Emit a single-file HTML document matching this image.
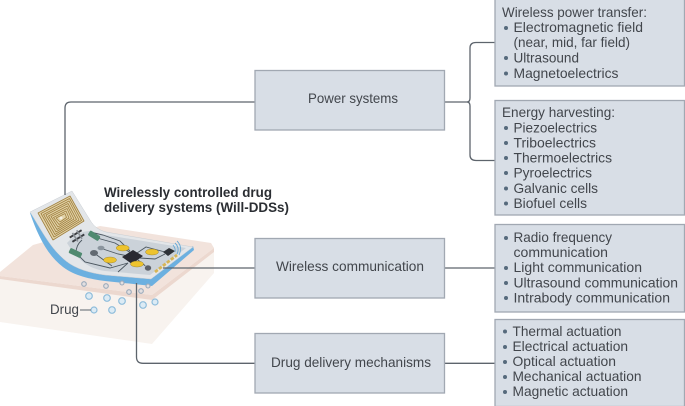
<!DOCTYPE html>
<html><head><meta charset="utf-8"><style>
html,body{margin:0;padding:0;background:#fff;width:685px;height:406px;overflow:hidden}
svg{display:block}
text{font-family:"Liberation Sans",sans-serif;font-size:13.6px;fill:#42464c}
.b{fill:#d8dee6;stroke:#a1a8b2;stroke-width:1.3}
.l{fill:none;stroke:#5d646c;stroke-width:1.3}
.d{fill:#566a7c}
.t{fill:none;stroke:#4b565f;stroke-width:.9}
.g{fill:#edc32d;stroke:#8f7a2a;stroke-width:.4}
.c{fill:#dcebf5;stroke:#8fbddb;stroke-width:1.2}
.s{fill:#e3dfe0;stroke:#9aaabb;stroke-width:1.1}
#art{filter:url(#soft)}
</style></head><body>
<svg width="685" height="406" viewBox="0 0 685 406" xmlns="http://www.w3.org/2000/svg">
<defs><filter id="soft" x="-5%" y="-5%" width="110%" height="110%"><feGaussianBlur stdDeviation="0.35"/></filter></defs>
<rect width="685" height="406" fill="#fff"/>
<g id="art">
<!-- tissue block -->
<polygon points="0,277 152,297 214,250 214,273 152,344 0,322" fill="#f8f3ef"/>
<polygon points="0,272 33,245 100,226 211,243 214,248 152,295 0,276" fill="#f2e3dc"/>
<polygon points="152,295 214,248 214,252 152,300 0,279 0,276" fill="#ecd8cf"/>
<!-- patch blue edge -->
<path d="M30,213 C37,233 46,254 63,267 C75,276 90,279 105,281 L152,286 L194,250 L193,246 L151,279 L105,275 C90,273 76,269 66,261 C50,248 42,231 33,212 Z" fill="#6cb0e0"/>
<!-- patch top -->
<path d="M30,212 L72,191 L90,220 C94,227 99,230 106,232 L193,247 L151,279 L105,275 C90,273 76,269 66,261 C50,248 42,231 30,212 Z" fill="#e3e6e9" stroke="#c8cdd2" stroke-width=".5"/>
<path d="M67,243 Q78,231 90,231 L106,235 L186,248 L150,275 L105,271 C90,269 78,261 67,243 Z" fill="#cbd2d9"/>
<!-- coil -->
<g fill="none" stroke="#a0803f" stroke-width=".8" stroke-linejoin="round">
<path d="M38,213 L70,196 L84,221 L53,240 Z" fill="#e2d3a9"/>
<path d="M41,213.500 L69.500,198.500 L81.500,220.500 L54,237 Z"/>
<path d="M43.500,214.500 L69,201 L79,220 L55,234.500 Z"/>
<path d="M46,215 L68,203.500 L76.500,219.500 L56,232 Z"/>
<path d="M48.500,216 L67.500,206 L74,219 L57,229.500 Z"/>
<path d="M51,216.500 L67,208.500 L71.500,218.500 L58,227 Z"/>
<path d="M53.500,217.500 L66,211 L69,218 L59,224.500 Z"/>
<path d="M56,218 L65,213.500 L66.500,217.500 L60,222 Z"/>
</g>
<circle cx="61" cy="218" r="1.500" fill="#f5efe0"/>
<!-- traces -->
<g class="t">
<path d="M82,240 Q76,245 76,253 L85,262 L110,268 L128,263"/>
<path d="M90,232 L103,235 L120,241 L130,251"/>
<path d="M97,238 L115,243 L131,253"/>
<path d="M100,248 L118,254 L128,256"/>
<path d="M94,253 L112,266"/>
<path d="M137,253 L146,247 L165,252"/>
<path d="M140,258 L155,259 L165,254"/>
<path d="M138,260 L148,268"/>
<path d="M118,272 L128,263"/>
</g>
<!-- components -->
<polygon points="122,257 133,250 143,256 132,264" fill="#2a2c31"/>
<ellipse class="g" cx="122.700" cy="248" rx="6.500" ry="3"/>
<ellipse class="g" cx="152" cy="252" rx="6.500" ry="3"/>
<ellipse class="g" cx="110" cy="260" rx="6.500" ry="3"/>
<ellipse class="g" cx="137" cy="264" rx="6.500" ry="3"/>
<g transform="rotate(32 94 236)"><rect x="88" y="233" width="12" height="5.500" rx="1.200" fill="#4f8a6f"/></g>
<g transform="rotate(25 76 253)"><rect x="69" y="250.500" width="13" height="5.500" rx="1.200" fill="#4f8a6f"/></g>
<g transform="rotate(-32 77 236)" fill="#3a3d42"><rect x="70" y="232.500" width="14" height="2"/><rect x="70" y="237.500" width="14" height="2"/><rect x="74" y="231" width="1.600" height="10" fill="#8a9097"/><rect x="79" y="231" width="1.600" height="10" fill="#8a9097"/></g>
<ellipse cx="101" cy="248" rx="3.500" ry="2.300" fill="#8b959e"/>
<ellipse cx="94" cy="253" rx="4" ry="3" fill="#626a72"/>
<ellipse cx="148" cy="268" rx="3.500" ry="3" fill="#5b6067" stroke="#c9ced3" stroke-width=".6"/>
<polygon points="163,252 169,248 175,251 168,256" fill="#2f3237"/>
<g fill="none" stroke="#68a9d6" stroke-width=".9"><path d="M175,243 Q180,248 177,254"/><path d="M177,241 Q183,247 179,255"/><path d="M173,245 Q176,249 175,252"/></g>
<g stroke="#d6b557" stroke-width="2.800" fill="none" stroke-dasharray="3.500 1.500"><path d="M155,272 L177,255"/></g>
<!-- drug particles -->
<circle class="s" cx="84" cy="284" r="2.300"/><circle class="s" cx="106" cy="286" r="2.300"/><circle class="s" cx="122" cy="283" r="2"/><circle class="s" cx="129" cy="292" r="2.300"/><circle class="s" cx="141" cy="291" r="2.300"/><circle class="s" cx="148" cy="286" r="2"/>
<circle class="c" cx="89" cy="296" r="3.300"/><circle class="c" cx="107" cy="298" r="3.300"/><circle class="c" cx="122" cy="301" r="3.300"/><circle class="c" cx="143" cy="305" r="3.300"/><circle class="c" cx="155" cy="302" r="3"/><circle class="c" cx="94" cy="310" r="3"/><circle class="c" cx="112" cy="310" r="3.300"/>
</g>
<text x="50" y="314" textLength="29" lengthAdjust="spacingAndGlyphs">Drug</text>
<line x1="80" y1="310" x2="91" y2="310" stroke="#5d646c" stroke-width="1"/>
<!-- connectors -->
<path class="l" d="M65,195 V108 Q65,102 71,102 H255"/>
<path class="l" d="M445,102 H467 Q470,102 470,98 V48 Q470,42.500 476,42.500 H495"/>
<path class="l" d="M467,102 Q470,102 470,106 V155 Q470,160.500 476,160.500 H495"/>
<path class="l" d="M163,268 H255"/>
<path class="l" d="M445,268 H495"/>
<path class="l" d="M136.500,283 V357 Q136.500,363.300 143,363.300 H255"/>
<path class="l" d="M445,363.300 H495"/>
<!-- center boxes -->
<rect class="b" x="255" y="70.500" width="189.500" height="59.500"/>
<rect class="b" x="255" y="238.500" width="189.500" height="59.500"/>
<rect class="b" x="255" y="333.500" width="189.500" height="59.500"/>
<text x="308" y="103" textLength="90" lengthAdjust="spacingAndGlyphs">Power systems</text>
<text x="276" y="271" textLength="148" lengthAdjust="spacingAndGlyphs">Wireless communication</text>
<text x="271" y="367" textLength="160" lengthAdjust="spacingAndGlyphs">Drug delivery mechanisms</text>
<!-- bold title -->
<text x="104" y="197" textLength="168" lengthAdjust="spacingAndGlyphs" style="font-weight:bold;fill:#2b2e33">Wirelessly controlled drug</text>
<text x="104" y="212" textLength="185" lengthAdjust="spacingAndGlyphs" style="font-weight:bold;fill:#2b2e33">delivery systems (Will-DDSs)</text>
<!-- right boxes -->
<rect class="b" x="495" y="-2" width="189.500" height="88"/>
<rect class="b" x="495" y="100.500" width="189.500" height="114.500"/>
<rect class="b" x="495" y="224.500" width="189.500" height="87.500"/>
<rect class="b" x="495" y="319.500" width="189.500" height="87"/>
<!-- box 1 -->
<text x="502" y="17" textLength="145" lengthAdjust="spacingAndGlyphs">Wireless power transfer:</text>
<circle class="d" cx="506" cy="28" r="2"/><text x="513.500" y="32" textLength="129.500" lengthAdjust="spacingAndGlyphs">Electromagnetic field</text>
<text x="513.500" y="47" textLength="116.500" lengthAdjust="spacingAndGlyphs">(near, mid, far field)</text>
<circle class="d" cx="506" cy="58" r="2"/><text x="513.500" y="62.500" textLength="65.500" lengthAdjust="spacingAndGlyphs">Ultrasound</text>
<circle class="d" cx="506" cy="73.500" r="2"/><text x="513.500" y="78" textLength="105" lengthAdjust="spacingAndGlyphs">Magnetoelectrics</text>
<!-- box 2 -->
<text x="502" y="117" textLength="113" lengthAdjust="spacingAndGlyphs">Energy harvesting:</text>
<circle class="d" cx="506" cy="128" r="2"/><text x="513.500" y="132.500" textLength="83.500" lengthAdjust="spacingAndGlyphs">Piezoelectrics</text>
<circle class="d" cx="506" cy="143" r="2"/><text x="513.500" y="147.500" textLength="82.500" lengthAdjust="spacingAndGlyphs">Triboelectrics</text>
<circle class="d" cx="506" cy="158" r="2"/><text x="513.500" y="162.500" textLength="98.500" lengthAdjust="spacingAndGlyphs">Thermoelectrics</text>
<circle class="d" cx="506" cy="173" r="2"/><text x="513.500" y="177.500" textLength="78.500" lengthAdjust="spacingAndGlyphs">Pyroelectrics</text>
<circle class="d" cx="506" cy="188.500" r="2"/><text x="513.500" y="193" textLength="84.500" lengthAdjust="spacingAndGlyphs">Galvanic cells</text>
<circle class="d" cx="506" cy="203.500" r="2"/><text x="513.500" y="208" textLength="73.500" lengthAdjust="spacingAndGlyphs">Biofuel cells</text>
<!-- box 3 -->
<circle class="d" cx="506" cy="238" r="2"/><text x="513.500" y="242" textLength="98.500" lengthAdjust="spacingAndGlyphs">Radio frequency</text>
<text x="513.500" y="257" textLength="94.500" lengthAdjust="spacingAndGlyphs">communication</text>
<circle class="d" cx="506" cy="268" r="2"/><text x="513.500" y="272" textLength="128.500" lengthAdjust="spacingAndGlyphs">Light communication</text>
<circle class="d" cx="506" cy="283" r="2"/><text x="513.500" y="287.500" textLength="164.500" lengthAdjust="spacingAndGlyphs">Ultrasound communication</text>
<circle class="d" cx="506" cy="298" r="2"/><text x="513.500" y="302.500" textLength="156.500" lengthAdjust="spacingAndGlyphs">Intrabody communication</text>
<!-- box 4 -->
<circle class="d" cx="505" cy="331.500" r="2"/><text x="512.500" y="336" textLength="109" lengthAdjust="spacingAndGlyphs">Thermal actuation</text>
<circle class="d" cx="505" cy="347" r="2"/><text x="512.500" y="351" textLength="115.500" lengthAdjust="spacingAndGlyphs">Electrical actuation</text>
<circle class="d" cx="505" cy="362" r="2"/><text x="512.500" y="366" textLength="103.500" lengthAdjust="spacingAndGlyphs">Optical actuation</text>
<circle class="d" cx="505" cy="377" r="2"/><text x="512.500" y="381" textLength="129" lengthAdjust="spacingAndGlyphs">Mechanical actuation</text>
<circle class="d" cx="505" cy="392" r="2"/><text x="512.500" y="396" textLength="115.500" lengthAdjust="spacingAndGlyphs">Magnetic actuation</text>
</svg>
</body></html>
